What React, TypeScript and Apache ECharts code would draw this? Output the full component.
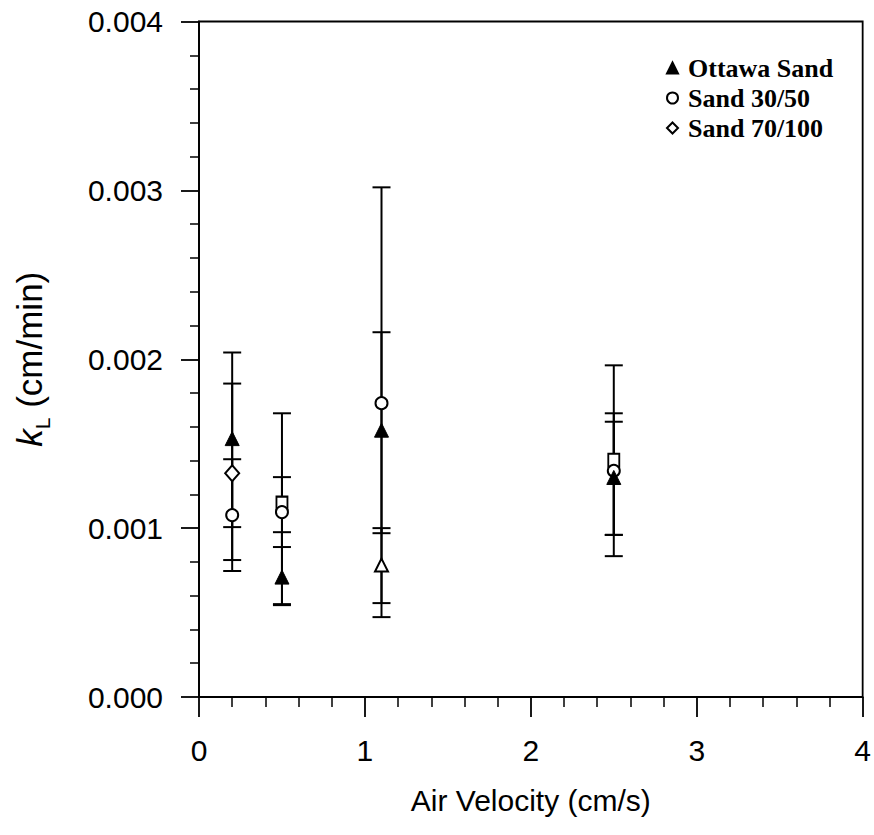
import React, { useEffect, useRef } from "react";
import * as echarts from "echarts";

const xValues = [0.2, 0.5, 1.1, 2.5];

const ottawaY = [0.00153, 0.00071, 0.00158, 0.0013];
const ottawaLow = [0.001006, 0.000544, 0.00097, 0.00096];
const ottawaHigh = [0.00204, 0.000976, 0.00216, 0.00163];

const sand3050Y = [0.001077, 0.001095, 0.00174, 0.00134];
const sand3050Low = [0.000746, 0.000888, 0.000473, 0.00096];
const sand3050High = [0.001408, 0.001302, 0.003018, 0.00168];

const sand70100Y = [0.001325, 0.001148, 0.000781, 0.001402];
const sand70100Low = [0.000811, 0.00055, 0.000556, 0.000834];
const sand70100High = [0.001856, 0.00168, 0.001, 0.001964];
const sand70100Symbols = ["diamond", "rect", "triangle", "rect"];

const seriesNames = ["Ottawa Sand", "Sand 30/50", "Sand 70/100"];

const SANS = "'Liberation Sans', Arial, sans-serif";
const SERIF = "'Liberation Serif', 'Times New Roman', serif";

function errorSeries(name: string, low: number[], high: number[]) {
  return {
    type: "custom",
    name,
    z: 2,
    silent: true,
    data: xValues.map((x, i) => [x, low[i], high[i]]),
    encode: { x: 0, y: [1, 2] },
    renderItem: (params: any, api: any) => {
      const x = api.value(0);
      const pLo = api.coord([x, api.value(1)]);
      const pHi = api.coord([x, api.value(2)]);
      const hw = 9;
      const style = { stroke: "#000", lineWidth: 2 };
      return {
        type: "group",
        children: [
          { type: "line", shape: { x1: pLo[0], y1: pLo[1], x2: pHi[0], y2: pHi[1] }, style },
          { type: "line", shape: { x1: pLo[0] - hw, y1: pLo[1], x2: pLo[0] + hw, y2: pLo[1] }, style },
          { type: "line", shape: { x1: pHi[0] - hw, y1: pHi[1], x2: pHi[0] + hw, y2: pHi[1] }, style },
        ],
      };
    },
  };
}

export default function App() {
  const ref = useRef<HTMLDivElement>(null);
  useEffect(() => {
    if (!ref.current) return;
    const chart = echarts.init(ref.current, null, { renderer: "svg" });
    const hollow = { color: "#fff", borderColor: "#000", borderWidth: 2, opacity: 1 };
    chart.setOption({
      animation: false,
      backgroundColor: "#fff",
      grid: {
        left: 199,
        top: 21.5,
        width: 665,
        height: 675.5,
        show: true,
        borderColor: "#000",
        borderWidth: 1.8,
        backgroundColor: "transparent",
      },
      legend: {
        orient: "vertical",
        left: 661,
        top: 50,
        itemWidth: 11,
        itemHeight: 11,
        itemGap: 4,
        data: seriesNames,
        textStyle: { fontFamily: SERIF, fontSize: 26, fontWeight: "bold", color: "#000", padding: [0, 0, 0, 5] },
        selectedMode: false,
      },
      xAxis: {
        type: "value",
        min: 0,
        max: 4,
        interval: 1,
        name: "Air Velocity (cm/s)",
        nameLocation: "middle",
        nameGap: 88,
        nameTextStyle: { fontFamily: SANS, fontSize: 30, color: "#000" },
        axisLine: { show: true, lineStyle: { color: "#000", width: 1.8 } },
        axisTick: { show: true, length: 20, lineStyle: { color: "#000", width: 1.8 } },
        minorTick: { show: true, splitNumber: 5, length: 10, lineStyle: { color: "#000", width: 1.5 } },
        splitLine: { show: false },
        axisLabel: { fontFamily: SANS, fontSize: 30, color: "#000", margin: 38 },
      },
      yAxis: {
        type: "value",
        min: 0,
        max: 0.004,
        interval: 0.001,
        name: "{k|k}{sub|L}{t| (cm/min)}",
        nameLocation: "middle",
        nameGap: 146,
        nameRotate: 90,
        nameTextStyle: {
          fontFamily: SANS,
          fontSize: 35,
          color: "#000",
          rich: {
            k: { fontFamily: SANS, fontSize: 35, fontStyle: "italic", color: "#000" },
            sub: { fontFamily: SANS, fontSize: 21, color: "#000", verticalAlign: "bottom", lineHeight: 47 },
            t: { fontFamily: SANS, fontSize: 35, color: "#000" },
          },
        },
        axisLine: { show: true, lineStyle: { color: "#000", width: 1.8 } },
        axisTick: { show: true, length: 18, lineStyle: { color: "#000", width: 1.8 } },
        minorTick: { show: true, splitNumber: 5, length: 9, lineStyle: { color: "#000", width: 1.5 } },
        splitLine: { show: false },
        axisLabel: {
          fontFamily: SANS,
          fontSize: 30,
          color: "#000",
          margin: 36,
          formatter: (v: number) => v.toFixed(3),
        },
      },
      series: [
        errorSeries("Ottawa Sand err", ottawaLow, ottawaHigh),
        errorSeries("Sand 30/50 err", sand3050Low, sand3050High),
        errorSeries("Sand 70/100 err", sand70100Low, sand70100High),
        {
          type: "scatter",
          name: seriesNames[0],
          z: 5,
          symbol: "triangle",
          symbolSize: 14,
          itemStyle: { color: "#000", borderColor: "#000", borderWidth: 1, opacity: 1 },
          data: xValues.map((x, i) => [x, ottawaY[i]]),
        },
        {
          type: "scatter",
          name: seriesNames[1],
          z: 4,
          symbol: "circle",
          symbolSize: 12,
          itemStyle: hollow,
          data: xValues.map((x, i) => [x, sand3050Y[i]]),
        },
        {
          type: "scatter",
          name: seriesNames[2],
          z: 3,
          symbol: "diamond",
          symbolSize: [14, 16],
          itemStyle: hollow,
          data: xValues.map((x, i) => ({
            value: [x, sand70100Y[i]],
            symbol: sand70100Symbols[i],
            symbolSize: sand70100Symbols[i] === "rect" ? [11, 13] : sand70100Symbols[i] === "triangle" ? 13 : [14, 16],
          })),
        },
      ],
    });
    return () => chart.dispose();
  }, []);
  return (
    <div
      ref={ref}
      style={{ position: "absolute", left: 0, top: 0, width: 874, height: 835 }}
    />
  );
}
